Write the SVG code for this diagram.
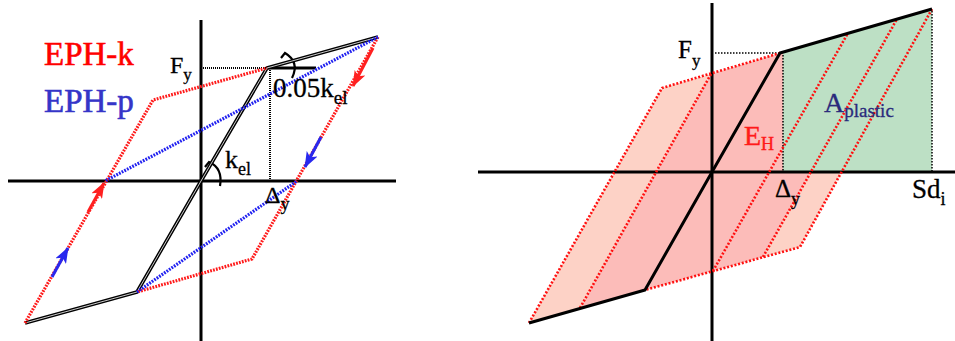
<svg xmlns="http://www.w3.org/2000/svg" width="955" height="341" viewBox="0 0 955 341">
<style>
.lbl{font-family:"Liberation Serif","Times New Roman",serif}
.axis{stroke:#000;stroke-width:3;fill:none}
.dotk{stroke:#000;stroke-width:2;stroke-dasharray:1 1;fill:none}
.dotk2{stroke:#000;stroke-width:1.5;stroke-dasharray:1.5 1.5;fill:none}
.dbl{stroke:#000;stroke-width:3.6;fill:none;stroke-linejoin:round}
.dblin{stroke:#fff;stroke-width:0.8;fill:none;stroke-linejoin:round}
.rdot{stroke:#ff1a1a;stroke-width:3.2;stroke-dasharray:1.8 1.2;fill:none}
.bdot{stroke:#2020f0;stroke-width:3.2;stroke-dasharray:1.8 1.2;fill:none}
.rdot2{stroke:#ff1010;stroke-width:2.6;stroke-dasharray:2 1.8;fill:none}
.blk{stroke:#000;stroke-width:3;fill:none;stroke-linejoin:round}
.arc{stroke:#000;stroke-width:2.2;fill:none}
.ra{stroke:#ff2020;stroke-width:3;fill:none}
.ba{stroke:#2828ee;stroke-width:3;fill:none}
.lp{fill:#fdd2c6}
.dp{fill:#fcbcb9}
.gr{fill:#bde0c5}
</style>
<defs>
<marker id="hr" markerUnits="userSpaceOnUse" markerWidth="18" markerHeight="12" refX="15" refY="6" orient="auto">
<path d="M0,0 L16,6 L0,12 L4,6 z" fill="#ff2020"/>
</marker>
<marker id="hb" markerUnits="userSpaceOnUse" markerWidth="18" markerHeight="12" refX="15" refY="6" orient="auto">
<path d="M0,0 L16,6 L0,12 L4,6 z" fill="#2828ee"/>
</marker>
</defs>

<g id="left-panel">
  <g id="left-axes">
    <line class="axis" x1="8" y1="181" x2="396" y2="181"/>
    <line class="axis" x1="201" y1="20" x2="201" y2="341" stroke="#222"/>
  </g>
  <g id="left-guides">
    <line class="dotk" x1="203" y1="68" x2="267" y2="68"/>
    <line class="dotk" x1="270" y1="70" x2="270" y2="181"/>
    <line class="blk" x1="267" y1="68" x2="316" y2="68"/>
    <path class="arc" d="M281,58 L285,53 Q300,62 292,78"/>
    <path class="arc" d="M205,167 L209,162 Q223,168 220,186"/>
  </g>
  <g id="bilinear-left">
    <path class="dbl" d="M25,323 L137,292 L201,181 L267,68 L378,37"/>
    <path class="dblin" d="M25,323 L137,292 L201,181 L267,68 L378,37"/>
  </g>
  <g id="connectors-left">
    <path class="rdot" d="M378,37 L252,259 L137,292"/>
    <path class="rdot" d="M25,323 L153,100 L267,68"/>
    <path class="bdot" d="M378,37 L105,181"/>
    <path class="bdot" d="M137,292 L297,181"/>
    <line class="ra" x1="373" y1="48" x2="353" y2="86" marker-end="url(#hr)"/>
    <line class="ba" x1="321" y1="137" x2="305" y2="167" marker-end="url(#hb)"/>
    <line class="ra" x1="88" y1="212" x2="104" y2="183" marker-end="url(#hr)"/>
    <line class="ba" x1="52" y1="277" x2="68" y2="248" marker-end="url(#hb)"/>
  </g>
  <g id="left-labels">
    <text class="lbl" x="44" y="65" font-size="33" fill="#ff0000" stroke="#ff0000" stroke-width="0.6">EPH-k</text>
    <text class="lbl" x="44" y="112" font-size="33" fill="#3535c8" stroke="#3535c8" stroke-width="0.6">EPH-p</text>
    <text class="lbl" x="170" y="73" font-size="24" fill="#000" stroke="#000" stroke-width="0.3">F<tspan font-size="17" dy="7">y</tspan></text>
    <text class="lbl" x="273" y="97" font-size="27" fill="#000" stroke="#000" stroke-width="0.3">0.05k<tspan font-size="19" dy="7">el</tspan></text>
    <text class="lbl" x="225" y="168" font-size="26" fill="#000" stroke="#000" stroke-width="0.3">k<tspan font-size="18" dy="7">el</tspan></text>
    <text class="lbl" x="265" y="203" font-size="24" fill="#000" stroke="#000" stroke-width="0.3">Δ<tspan font-size="18" dy="7">y</tspan></text>
  </g>
</g>

<g id="right-panel">
  <g id="fills">
    <polygon class="lp" points="529,323 662,88 711,74 580,308"/>
    <polygon class="lp" points="897,19 932,9 800,247 763,257"/>
    <polygon class="dp" points="580,308 711,74 780,53 897,19 763,257 645,290"/>
    <polygon class="gr" points="783,52 932,9 932,172 783,172"/>
  </g>
  <g id="right-axes">
    <line class="axis" x1="478" y1="172" x2="955" y2="172"/>
    <line class="axis" x1="712" y1="3" x2="712" y2="341" stroke-width="2.6"/>
  </g>
  <g id="right-guides">
    <line class="dotk2" x1="715" y1="53" x2="780" y2="53"/>
    <line class="dotk2" x1="783" y1="55" x2="783" y2="172"/>
    <line class="dotk2" x1="932" y1="11" x2="932" y2="172"/>
  </g>
  <g id="connectors-right">
    <path class="rdot2" d="M529,323 L662,88 L780,53"/>
    <path class="rdot2" d="M580,308 L711,74"/>
    <path class="rdot2" d="M932,9 L800,247 L645,290"/>
    <path class="rdot2" d="M713,271 L848,33"/>
    <path class="rdot2" d="M763,257 L897,19"/>
  </g>
  <g id="bilinear-right">
    <path class="blk" d="M529,323 L645,290 L712,172 L780,53 L932,9"/>
  </g>
  <g id="right-labels">
    <text class="lbl" x="678" y="58" font-size="25" fill="#000" stroke="#000" stroke-width="0.3">F<tspan font-size="17" dy="8">y</tspan></text>
    <text class="lbl" x="744" y="145" font-size="28" fill="#ff1a1a" stroke="#ff1a1a" stroke-width="0.4">E<tspan font-size="18" dy="5">H</tspan></text>
    <text class="lbl" x="824" y="112" font-size="28" fill="#2a2a7c" stroke="#2a2a7c" stroke-width="0.3">A<tspan font-size="19" dy="5">plastic</tspan></text>
    <text class="lbl" x="775" y="197" font-size="25" fill="#000" stroke="#000" stroke-width="0.3">Δ<tspan font-size="18" dy="8">y</tspan></text>
    <text class="lbl" x="912" y="198" font-size="27" fill="#000" stroke="#000" stroke-width="0.3">Sd<tspan font-size="18" dy="7">i</tspan></text>
  </g>
</g>
</svg>
